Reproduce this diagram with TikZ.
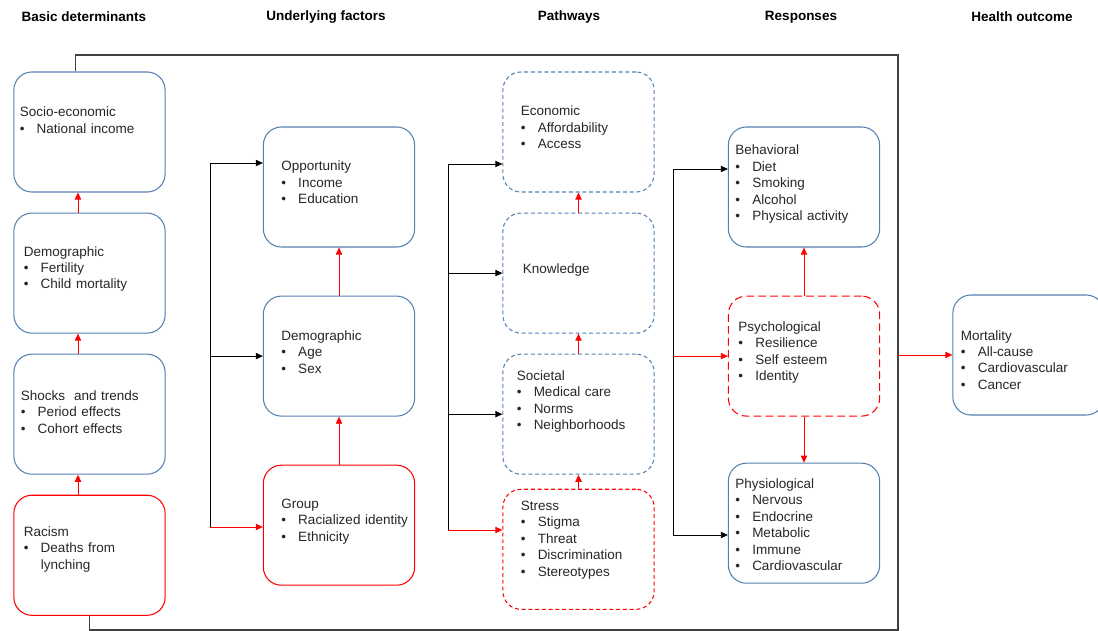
\documentclass[tikz,border=0pt]{standalone}
\usepackage{fontspec}
\setmainfont{Liberation Sans}
\definecolor{BoxBlue}{RGB}{84, 128, 178}
\definecolor{LineRed}{RGB}{255, 0, 0}
\definecolor{TextGray}{RGB}{38, 38, 38}
\usetikzlibrary{arrows.meta, positioning}
\newcommand{\itm}[1]{\\\makebox[12pt][l]{\textbullet}\mbox{#1}}

\begin{document}
\begin{tikzpicture}[x=0.025cm, y=-0.025cm,
        pad/.code={\pgfmathsetlengthmacro\padtw{3.78cm-2*#1}\tikzset{inner xsep=#1, text width=\padtw}},
        base/.code={\pgfmathsetlengthmacro\basedp{3cm-#1}\tikzset{text height=#1, text depth=\basedp}},
        box/.style={rectangle, draw=BoxBlue, line width=0.75pt, rounded corners=0.45cm, minimum width=3.78cm, minimum height=3cm, inner ysep=0pt, align=left, text=TextGray, font=\fontsize{9.6pt}{11.7pt}\selectfont, pad=0.175cm, base=1.1cm},
        redbox/.style={box, draw=LineRed},
        pathbox/.style={box, dash pattern=on 2.8pt off 2pt},
        stressbox/.style={box, draw=LineRed, dash pattern=on 2.8pt off 2pt},
        psychbox/.style={box, draw=LineRed, dash pattern=on 5.5pt off 3pt},
        colhead/.style={font=\bfseries\fontsize{9.6pt}{11pt}\selectfont, text=black},
        arrow/.style={-{Triangle[length=5pt, width=4.5pt]}, line width=0.6pt},
        redarrow/.style={arrow, LineRed},
        frameline/.style={draw=black!75, line width=0.8pt}
    ]
        \useasboundingbox (0,0) rectangle (1098,631);
        % column headers
        \node[colhead] (hbasic) at (84,17) {Basic determinants};
        \node[colhead] (hunder) at (326,17) {Underlying factors};
        \node[colhead] (hpath) at (569,17) {Pathways};
        \node[colhead] (hresp) at (801,17) {Responses};
        \node[colhead] (hout) at (1022,17) {Health outcome};
        % basic determinants
        \node[box, pad=0.15cm, base=1.125cm] (socio) at (89.5,132) {Socio-economic\itm{National income}};
        \node[box, pad=0.25cm, base=1.075cm, below=0.5cm of socio] (demo1) {Demographic\itm{Fertility}\itm{Child mortality}};
        \node[box, pad=0.175cm, base=1.15cm, below=0.5cm of demo1] (shocks) {Shocks \ and trends\itm{Period effects}\itm{Cohort effects}};
        \node[redbox, pad=0.25cm, base=1.025cm, below=0.5cm of shocks] (racism) {Racism\itm{Deaths from}\\\hspace*{12pt}lynching};
        % underlying factors
        \node[box, pad=0.45cm, base=1.1cm] (opp) at (339,187) {Opportunity\itm{Income}\itm{Education}};
        \node[box, pad=0.45cm, base=1.1cm, below=1.2cm of opp] (demo2) {Demographic\itm{Age}\itm{Sex}};
        \node[redbox, pad=0.45cm, base=1.075cm, below=1.2cm of demo2] (group) {Group\itm{Racialized identity}\itm{Ethnicity}};
        % pathways
        \node[pathbox, pad=0.45cm, base=1.1cm] (econ) at (578.5,132) {Economic\itm{Affordability}\itm{Access}};
        \node[pathbox, pad=0.5cm, base=1.5cm, below=0.5cm of econ] (know) {Knowledge};
        \node[pathbox, pad=0.35cm, base=0.65cm, below=0.5cm of know] (soc) {Societal\itm{Medical care}\itm{Norms}\itm{Neighborhoods}};
        \node[stressbox, pad=0.45cm, base=0.525cm, below=0.35cm of soc] (stress) {Stress\itm{Stigma}\itm{Threat}\itm{Discrimination}\itm{Stereotypes}};
        % responses
        \node[box, pad=0.175cm, base=0.7cm] (behav) at (804,187) {Behavioral\itm{Diet}\itm{Smoking}\itm{Alcohol}\itm{Physical activity}};
        \node[psychbox, pad=0.25cm, base=0.875cm, below=1.2cm of behav] (psych) {Psychological\itm{Resilience}\itm{Self esteem}\itm{Identity}};
        \node[box, pad=0.175cm, base=0.625cm, below=1.15cm of psych] (physio) {Physiological\itm{Nervous}\itm{Endocrine}\itm{Metabolic}\itm{Immune}\itm{Cardiovascular}};
        % health outcome
        \node[box, pad=0.2cm, base=1.125cm] (mort) at (1028.5,355) {Mortality\itm{All-cause}\itm{Cardiovascular}\itm{Cancer}};
        % frame round the middle columns
        \coordinate (ftop) at (898,55);
        \coordinate (fbot) at (898,630);
        \draw[frameline] ([xshift=-0.36cm]socio.north) |- (ftop) -- (fbot) -| (racism.south);
        \draw[redarrow] (ftop |- mort.west) -- (mort.west);
        % red links within the columns
        \coordinate (c1) at (78,0);
        \draw[redarrow] (demo1.north -| c1) -- (socio.south -| c1);
        \draw[redarrow] (shocks.north -| c1) -- (demo1.south -| c1);
        \draw[redarrow] (racism.north -| c1) -- (shocks.south -| c1);
        \draw[redarrow] (demo2) -- (opp);
        \draw[redarrow] (group) -- (demo2);
        \draw[redarrow] (know) -- (econ);
        \draw[redarrow] (soc) -- (know);
        \draw[redarrow] (stress) -- (soc);
        \draw[redarrow] (psych) -- (behav);
        \draw[redarrow] (psych) -- (physio);
        % brackets
        \coordinate (j2t) at (210,163);
        \coordinate (j2b) at (210,527);
        \draw[arrow] (j2b) |- (opp.west |- j2t);
        \draw[arrow] (j2t |- demo2.west) -- (demo2.west);
        \draw[redarrow] (j2b) -- (group.west |- j2b);
        \coordinate (j3t) at (448,164);
        \coordinate (j3b) at (448,530);
        \draw[arrow] (j3b) |- (econ.west |- j3t);
        \draw[arrow] (j3t |- know.west) -- (know.west);
        \draw[arrow] (j3t |- soc.west) -- (soc.west);
        \draw[redarrow] (j3b) -- (stress.west |- j3b);
        \coordinate (j4t) at (673,169);
        \coordinate (j4b) at (673,535);
        \draw[arrow] (j4b) |- (behav.west |- j4t);
        \draw[redarrow] (j4t |- psych.west) -- (psych.west);
        \draw[arrow] (j4b) -- (physio.west |- j4b);
    \end{tikzpicture}
\end{document}
